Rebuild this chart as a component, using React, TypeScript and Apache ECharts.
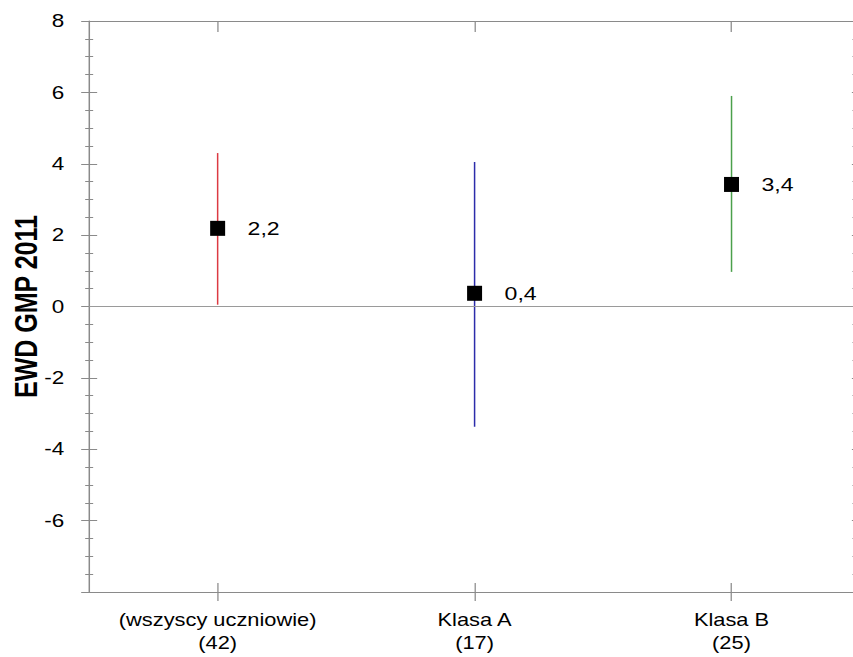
import React, { useEffect, useRef } from 'react';
import * as echarts from 'echarts';

const categories = ['(wszyscy uczniowie)\n(42)', 'Klasa A\n(17)', 'Klasa B\n(25)'];
const means = [2.19, 0.37, 3.42];
const lows = [0.05, -3.37, 0.97];
const highs = [4.3, 4.05, 5.9];
const barColors = ['#dc3a42', '#2c2caa', '#4ca04c'];
const yMin = -8;
const yMax = 8;
const yInterval = 2;
const yTitle = 'EWD GMP 2011';

const NATIVE_W = 683;
const H = 657;
const SX = 853 / NATIVE_W;

const AXIS_COLOR = '#8a8a8a';
const FONT = '"Liberation Sans", Arial, Helvetica, sans-serif';

export default function App() {
  const ref = useRef<HTMLDivElement>(null);
  useEffect(() => {
    if (!ref.current) return;
    const chart = echarts.init(ref.current, undefined, { renderer: 'svg' });
    const valueAxisBase = {
      type: 'value',
      min: yMin,
      max: yMax,
      interval: yInterval,
      splitLine: { show: false },
    };
    const catAxisBase = {
      type: 'category',
      data: categories,
      splitLine: { show: false },
    };
    chart.setOption({
      animation: false,
      backgroundColor: '#ffffff',
      textStyle: { fontFamily: FONT },
      grid: { left: 71.4, right: -5.6, top: 21, bottom: 65, containLabel: false, outerBoundsMode: 'none' },
      xAxis: [
        {
          ...catAxisBase,
          position: 'bottom',
          axisLine: { show: true, onZero: false, lineStyle: { color: AXIS_COLOR, width: 1.2 } },
          axisTick: { show: true, alignWithLabel: true, inside: false, length: 9, lineStyle: { color: AXIS_COLOR, width: 1 } },
          axisLabel: { show: true, interval: 0, color: '#000', fontSize: 17.5, lineHeight: 23, margin: 16, fontFamily: FONT },
        },
        {
          ...catAxisBase,
          position: 'bottom',
          axisLine: { show: false, onZero: false },
          axisTick: { show: true, alignWithLabel: true, inside: true, length: 9, lineStyle: { color: AXIS_COLOR, width: 1 } },
          axisLabel: { show: false },
        },
        {
          ...catAxisBase,
          position: 'top',
          axisLine: { show: true, onZero: false, lineStyle: { color: AXIS_COLOR, width: 1.2 } },
          axisTick: { show: true, alignWithLabel: true, inside: true, length: 11, lineStyle: { color: AXIS_COLOR, width: 1 } },
          axisLabel: { show: false },
        },
      ],
      yAxis: [
        {
          ...valueAxisBase,
          position: 'left',
          name: yTitle,
          nameLocation: 'middle',
          nameGap: 38,
          nameMoveOverlap: false,
          nameTextStyle: { fontSize: 25, fontWeight: 'bold', color: '#000', fontFamily: FONT },
          axisLine: { show: true, onZero: false, lineStyle: { color: AXIS_COLOR, width: 1.2 } },
          axisTick: { show: true, inside: false, length: 6.4, lineStyle: { color: AXIS_COLOR, width: 1 } },
          minorTick: { show: true, splitNumber: 4, length: 3.2, lineStyle: { color: AXIS_COLOR, width: 1 } },
          axisLabel: {
            show: true,
            color: '#000',
            fontSize: 18,
            margin: 20,
            fontFamily: FONT,
            formatter: (v: number) => (v === yMin ? '' : String(v)),
          },
        },
        {
          ...valueAxisBase,
          position: 'left',
          axisLine: { show: false, onZero: false },
          axisTick: { show: true, inside: true, length: 6.4, lineStyle: { color: AXIS_COLOR, width: 1 } },
          minorTick: { show: true, splitNumber: 4, length: 3.2, lineStyle: { color: AXIS_COLOR, width: 1 } },
          axisLabel: { show: false },
        },
        {
          ...valueAxisBase,
          position: 'right',
          axisLine: { show: true, onZero: false, lineStyle: { color: AXIS_COLOR, width: 1.2 } },
          axisTick: { show: true, inside: true, length: 6.5, lineStyle: { color: AXIS_COLOR, width: 1 } },
          minorTick: { show: true, splitNumber: 4, length: 6, lineStyle: { color: AXIS_COLOR, width: 1 } },
          axisLabel: { show: false },
        },
      ],
      series: [
        {
          type: 'custom',
          xAxisIndex: 0,
          yAxisIndex: 0,
          z: 2,
          data: categories.map((_, i) => [i, lows[i], highs[i]]),
          encode: { x: 0, y: [1, 2] },
          renderItem: (params: any, api: any) => {
            const i = api.value(0);
            const p1 = api.coord([i, api.value(1)]);
            const p2 = api.coord([i, api.value(2)]);
            return {
              type: 'line',
              shape: { x1: p1[0], y1: p1[1], x2: p2[0], y2: p2[1] },
              style: { stroke: barColors[params.dataIndex], lineWidth: 1.2 },
            };
          },
          markLine: {
            silent: true,
            symbol: ['none', 'none'],
            label: { show: false },
            lineStyle: { color: '#9a9a9a', width: 1.2, type: 'solid' },
            data: [{ yAxis: 0 }],
          },
        },
        {
          type: 'scatter',
          xAxisIndex: 0,
          yAxisIndex: 0,
          z: 5,
          symbol: 'rect',
          symbolSize: [12, 15],
          itemStyle: { color: '#000000', opacity: 1 },
          data: means.map((m, i) => [i, m]),
          label: {
            show: true,
            position: 'right',
            distance: 14,
            color: '#000',
            fontSize: 18.5,
            fontFamily: FONT,
            backgroundColor: '#ffffff',
            padding: [2, 4],
            formatter: (p: any) => p.value[1].toFixed(1).replace('.', ','),
          },
        },
      ],
    });
    return () => chart.dispose();
  }, []);
  return (
    <div
      ref={ref}
      style={{
        position: 'absolute',
        left: 0,
        top: 0,
        width: NATIVE_W + 'px',
        height: H + 'px',
        transform: `scaleX(${SX})`,
        transformOrigin: '0 0',
        background: '#fff',
      }}
    />
  );
}
